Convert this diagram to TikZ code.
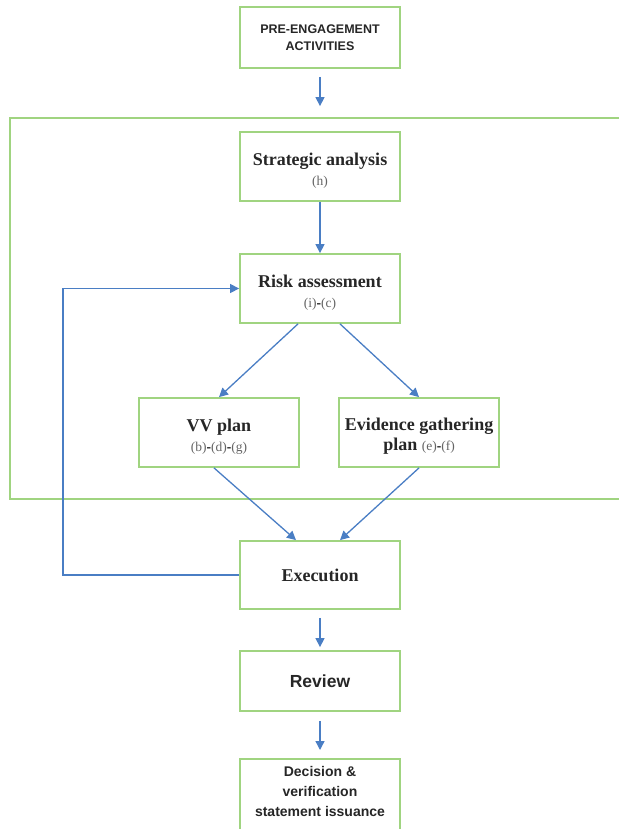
\documentclass[tikz,border=0pt]{standalone}
\usepackage{fontspec}
\setmainfont{Liberation Serif}
\newfontfamily\arialf{Liberation Sans}
\usetikzlibrary{arrows.meta}
\definecolor{boxgreen}{RGB}{160,212,128}
\definecolor{arrblue}{RGB}{74,126,196}
\definecolor{txt}{RGB}{38,38,38}
\definecolor{subg}{RGB}{100,100,100}
\newcommand\lbl[1]{{\mdseries\fontsize{13.5}{20}\selectfont\color{subg}#1}}
\newcommand\dsh{{\bfseries\fontsize{13.5}{20}\selectfont\color{black}-}}
\newcommand\tstrut{\rule{0pt}{20pt}}
\begin{document}
\begin{tikzpicture}[x=1pt,y=-1pt,
  box/.style={draw=boxgreen, line width=1.8pt, minimum width=160pt, inner sep=0pt, align=center, text=txt},
  serifbox/.style={box, font=\fontsize{18}{20}\selectfont\bfseries},
  sansbox/.style={box, font=\arialf\bfseries},
  frame/.style={draw=boxgreen, line width=1.6pt},
  arr/.style={draw=arrblue, line width=1.3pt, -{Triangle[width=9pt,length=9pt]}}]
\useasboundingbox (0,0) rectangle (619,829);
\draw[frame] (619,118) -- (10,118) -- (10,499) -- (619,499);
\node[sansbox, minimum height=61pt, font=\arialf\bfseries\fontsize{12.5}{17}\selectfont] (pre) at (320,37.5) {PRE-ENGAGEMENT\\ACTIVITIES};
\node[serifbox, minimum height=69pt] (strat) at (320,166.5) {\tstrut Strategic analysis\\\lbl{(h)}};
\node[serifbox, minimum height=69pt] (risk) at (320,288.5) {\tstrut Risk assessment\\\lbl{(i)}\dsh\lbl{(c)}};
\node[serifbox, minimum height=69pt] (vv) at (219,432.5) {\tstrut VV plan\\\lbl{(b)}\dsh\lbl{(d)}\dsh\lbl{(g)}};
\node[serifbox, minimum height=69pt] (evid) at (419,432.5) {\tstrut Evidence gathering\\plan \lbl{(e)}\dsh\lbl{(f)}};
\node[serifbox, minimum height=68pt] (exec) at (320,575) {Execution};
\node[sansbox, minimum height=60pt, font=\arialf\bfseries\fontsize{17.5}{20}\selectfont] (rev) at (320,681) {Review};
\node[sansbox, anchor=north, inner ysep=7pt, font=\arialf\bfseries\fontsize{14}{20}\selectfont] (dec) at (320,758) {Decision \&\\verification\\statement issuance\rule[-40pt]{0pt}{0pt}};
\coordinate (fb) at (63,0);
\draw[arr, shorten <=8pt, shorten >=25pt] (pre.south) -- (strat.north);
\draw[arr] (strat.south) -- (risk.north);
\draw[arr] ([xshift=-22pt]risk.south) -- (vv.north);
\draw[arr] ([xshift=20pt]risk.south) -- (evid.north);
\draw[arr] ([xshift=-5pt]vv.south) -- ([xshift=-24pt]exec.north);
\draw[arr] (evid.south) -- ([xshift=20pt]exec.north);
\draw[arr] (exec.west) -| (fb |- risk.west) -- (risk.west);
\draw[arr, shorten <=8pt, shorten >=3pt] (exec.south) -- (rev.north);
\draw[arr, shorten <=9pt, shorten >=8pt] (rev.south) -- (dec.north);
\end{tikzpicture}
\end{document}
